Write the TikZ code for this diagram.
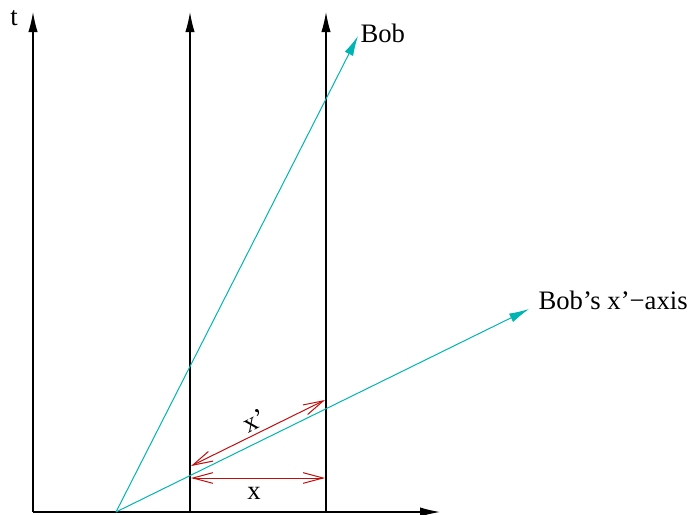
\documentclass[tikz,border=0pt]{standalone}
\usepackage{fontspec}
\setmainfont{Liberation Serif}
\usepackage{tikz}
\usetikzlibrary{arrows.meta}
\definecolor{bobcyan}{RGB}{0,180,180}
\definecolor{lenred}{RGB}{190,15,15}

\begin{document}
\begin{tikzpicture}[
  x=0.75pt,y=-0.75pt,
  font=\fontsize{20}{24}\selectfont,
  axis/.style={-{Latex[length=15pt,width=7pt]}, line width=0.9pt},
  bobline/.style={-{Latex[length=15pt,width=7pt]}, line width=0.75pt, bobcyan},
  measure/.style={{Straight Barb[length=15pt,width=8pt]}-{Straight Barb[length=15pt,width=8pt]}, line width=0.75pt, lenred},
  lbl/.style={inner sep=1pt}
]
\useasboundingbox (0,0) rectangle (695,514);

% Frame of the rest observer.
\coordinate (origin) at (33,512);
\coordinate (xtip) at (440,512);
\coordinate (ttip) at (33,12);
\coordinate (leftfoot) at (190,512);
\coordinate (lefttip) at (190,12);
\coordinate (rightfoot) at (326,512);
\coordinate (righttip) at (326,12);
\draw[axis] (origin) -- (xtip);
\draw[axis] (origin) -- (ttip);
\draw[axis] (leftfoot) -- (lefttip);
\draw[axis] (rightfoot) -- (righttip);
\node[lbl] (tlabel) at (14,18) {t};

% Bob's worldline and his x'-axis.
\coordinate (bobstart) at (116,512);
\coordinate (bobtip) at (358,36);
\coordinate (bobxtip) at (529,309);
\draw[bobline] (bobstart) -- (bobtip);
\draw[bobline] (bobstart) -- (bobxtip);
\node[lbl, anchor=west] (boblabel) at (359,33) {Bob};
\node[lbl, anchor=west] (bobxlabel) at (537,300) {Bob's x'\textminus axis};

% Lengths in the two frames.
\coordinate (xpa) at (191,466);
\coordinate (xpb) at (325,400);
\coordinate (xa) at (191,478);
\coordinate (xb) at (325,478);
\draw[measure] (xpa) -- (xpb);
\draw[measure] (xa) -- (xb);
\node[lbl, rotate=27] (xplabel) at (254,421) {x'};
\node[lbl] (xlabel) at (254,493) {x};
\end{tikzpicture}
\end{document}
